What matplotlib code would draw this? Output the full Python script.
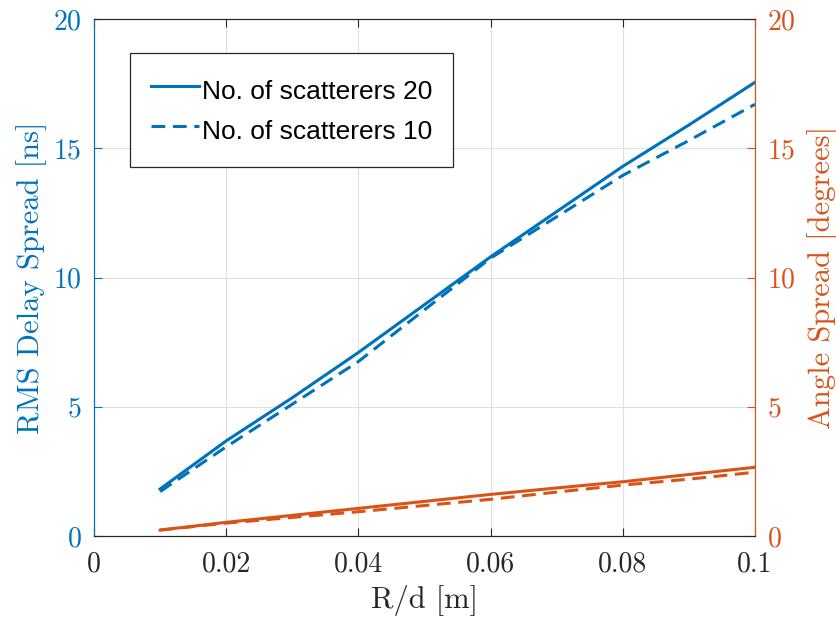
import numpy as np
import matplotlib
matplotlib.use('Agg')
import matplotlib.pyplot as plt

# Data
rd = [0.01, 0.02, 0.03, 0.04, 0.05, 0.06, 0.07, 0.08, 0.09, 0.1]
rms_20 = [1.82, 3.68, 5.35, 7.1, 8.95, 10.8, 12.55, 14.3, 15.9, 17.55]
rms_10 = [1.72, 3.45, 5.1, 6.75, 8.75, 10.75, 12.35, 13.95, 15.3, 16.7]
ang_20 = [0.23, 0.53, 0.8, 1.07, 1.34, 1.61, 1.86, 2.1, 2.38, 2.66]
ang_10 = [0.23, 0.5, 0.72, 0.94, 1.18, 1.42, 1.7, 1.97, 2.2, 2.47]

blue = '#0072BD'
orange = '#D95319'
dark = '#262626'

plt.rcParams['font.family'] = 'serif'
plt.rcParams['font.serif'] = ['cmr10']
plt.rcParams['mathtext.fontset'] = 'cm'
plt.rcParams['axes.formatter.use_mathtext'] = True

fig = plt.figure(figsize=(8.37, 6.23), dpi=100)
ax = fig.add_axes([0.1123, 0.1396, 0.7897, 0.8299])
ax2 = ax.twinx()

l1, = ax.plot(rd, rms_20, '-', color=blue, lw=2.2)
l2, = ax.plot(rd, rms_10, '--', color=blue, lw=2.2, dashes=(4.5, 2.5))
ax2.plot(rd, ang_20, '-', color=orange, lw=2.2)
ax2.plot(rd, ang_10, '--', color=orange, lw=2.2, dashes=(4.5, 2.5))

ax.set_xlim(0, 0.1)
ax.set_ylim(0, 20)
ax2.set_ylim(0, 20)
ax.set_xticks([0, 0.02, 0.04, 0.06, 0.08, 0.1])
ax.set_xticklabels(['0', '0.02', '0.04', '0.06', '0.08', '0.1'])
ax.set_yticks([0, 5, 10, 15, 20])
ax2.set_yticks([0, 5, 10, 15, 20])

ax.grid(True, color='#e0e0e0', lw=0.8)
ax.set_axisbelow(True)

ax.tick_params(axis='x', direction='in', top=True, colors=dark, labelsize=20, length=6, pad=11)
ax.tick_params(axis='y', direction='in', colors=blue, labelsize=20, length=6, pad=9)
ax2.tick_params(axis='y', direction='in', colors=orange, labelsize=20, length=6, pad=9)

for a in (ax, ax2):
    a.spines['top'].set_color(dark)
    a.spines['bottom'].set_color(dark)
    a.spines['left'].set_color(blue)
    a.spines['right'].set_color(orange)

ax.set_xlabel('R/d [m]', fontsize=22, color=dark, labelpad=5)
ax.set_ylabel('RMS Delay Spread [ns]', fontsize=22, color=blue, labelpad=4)
ax2.set_ylabel('Angle Spread [degrees]', fontsize=22, color=orange, labelpad=8)

leg = ax2.legend(handles=[l1, l2], labels=['No. of scatterers 20', 'No. of scatterers 10'],
                 loc='upper left', bbox_to_anchor=(0.055, 0.935),
                 prop={'family': 'Liberation Sans', 'size': 19},
                 fancybox=False, edgecolor=dark, framealpha=1,
                 handlelength=1.8, handleheight=1.5, handletextpad=0.1,
                 borderpad=0.8, labelspacing=0.3, borderaxespad=0)
leg.get_frame().set_linewidth(0.9)

fig.savefig('out.png', dpi=100)
